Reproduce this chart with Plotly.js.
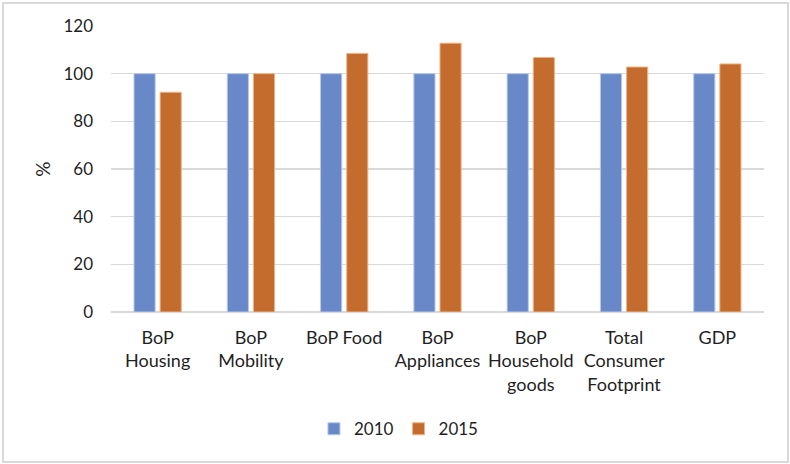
<!DOCTYPE html>
<html>
<head>
<meta charset="utf-8">
<script src="https://cdn.plot.ly/plotly-3.0.1.min.js"></script>
<style>
  html, body { margin: 0; padding: 0; background: #fff; }
  #wrap { position: relative; width: 790px; height: 464px; }
  #chart { width: 790px; height: 464px; }
  #frame { position: absolute; left: 2px; top: 2px; width: 783px; height: 457px;
           border: 2px solid #d9d9d9; pointer-events: none; }
</style>
</head>
<body>
<div id="wrap">
  <div id="chart"></div>
  <div id="frame"></div>
</div>
<script>
const categories = ["BoP<br>Housing", "BoP<br>Mobility", "BoP Food", "BoP<br>Appliances",
                    "BoP<br>Household<br>goods", "Total<br>Consumer<br>Footprint", "GDP"];
const values2010 = [100, 100, 100, 100, 100, 100, 100];
const values2015 = [92.2, 100, 108.5, 112.8, 106.8, 102.8, 104.1];
const seriesNames = ["2010", "2015"];
const yTicks = [0, 20, 40, 60, 80, 100, 120];

const font = "Lato, 'Open Sans', sans-serif";
const txt = "#1f1f1f";

const traces = [
  { type: "bar", name: seriesNames[0], x: categories, y: values2010,
    marker: { color: "#6888C8", line: { color: "#B7C8EA", width: 1 } } },
  { type: "bar", name: seriesNames[1], x: categories, y: values2015,
    marker: { color: "#C46C2E", line: { color: "#EDB58A", width: 1 } } }
];

const layout = {
  width: 790, height: 464,
  margin: { l: 111, r: 26, t: 26, b: 152 },
  paper_bgcolor: "#fff", plot_bgcolor: "#fff",
  font: { family: font, size: 17, color: txt },
  barmode: "group", bargap: 0.44, bargroupgap: 0.19,
  showlegend: true,
  legend: { orientation: "h", xref: "container", yref: "container",
            x: 0.505, xanchor: "center", y: 0.075, yanchor: "middle",
            font: { family: font, size: 17, color: txt },
            itemwidth: 30, tracegroupgap: 0, traceorder: "normal" },
  xaxis: { type: "category", showgrid: false, showline: false, zeroline: false,
           ticks: "", tickfont: { family: font, size: 18, color: txt },
           ticklabelstandoff: 13 },
  yaxis: { range: [0, 120], tickvals: yTicks, showgrid: true, gridcolor: "#d9d9d9",
           gridwidth: 1.3, zeroline: true, zerolinecolor: "#d9d9d9", zerolinewidth: 1.3,
           showline: false, ticks: "", ticklabelstandoff: 17,
           tickfont: { family: font, size: 17, color: txt },
           title: { text: "%", standoff: 7, font: { family: font, size: 19, color: txt } } }
};

Plotly.newPlot("chart", traces, layout, { displayModeBar: false, staticPlot: true });
</script>
</body>
</html>
